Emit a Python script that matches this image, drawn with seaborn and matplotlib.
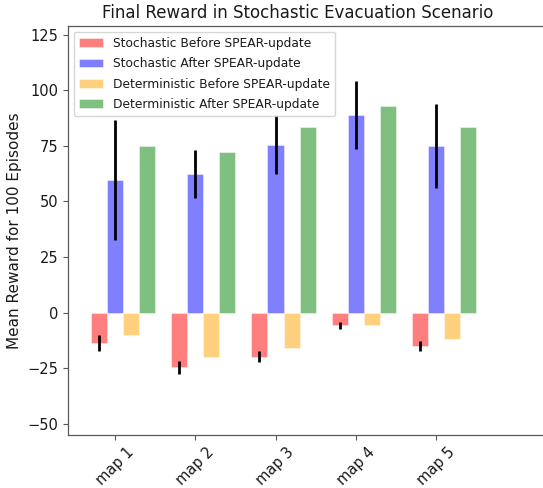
import matplotlib.pyplot as plt
import numpy as np
import pandas as pd
import seaborn as sns

sns.set_style('ticks', {'axes.edgecolor': '0.35', 'xtick.color': '0.35',
                        'ytick.color': '0.35', 'text.color': '0.1',
                        'axes.labelcolor': '0.1'})

maps = ['map 1', 'map 2', 'map 3', 'map 4', 'map 5']
series = ['Stochastic Before SPEAR-update', 'Stochastic After SPEAR-update',
          'Deterministic Before SPEAR-update', 'Deterministic After SPEAR-update']
colors = ['red', 'blue', 'orange', 'green']

stoch_before = [-13.8, -24.6, -19.8, -5.8, -15.0]
stoch_before_err = [3.5, 3.0, 2.5, 1.5, 2.2]
stoch_after = [59.5, 62.5, 75.5, 89.0, 75.0]
stoch_after_err = [27.0, 10.8, 13.3, 15.3, 18.9]
det_before = [-10.2, -20.2, -16.0, -5.4, -12.0]
det_after = [75.1, 72.1, 83.3, 92.9, 83.3]

values = [stoch_before, stoch_after, det_before, det_after]
errors = [stoch_before_err, stoch_after_err, None, None]

df = pd.DataFrame({
    'map': maps * 4,
    'series': [s for s in series for _ in maps],
    'reward': [v for vals in values for v in vals],
})

fig = plt.figure(figsize=(5.43, 4.88), dpi=100)
ax = fig.add_axes([0.125, 0.109, 0.877, 0.838])

sns.barplot(df, x='map', y='reward', hue='series', hue_order=series,
            palette=colors, saturation=1, alpha=0.5, errorbar=None,
            width=0.8, edgecolor='white', linewidth=0.6, ax=ax)

# error bars on the stochastic bars, placed at each bar's centre
for k, err in enumerate(errors):
    if err is None:
        continue
    cont = ax.containers[k]
    xs = [p.get_x() + p.get_width() / 2 for p in cont.patches]
    ax.errorbar(xs, values[k], yerr=err, fmt='none', ecolor='black',
                elinewidth=2, capsize=0)

# ticks sit under the "after" stochastic bar
ax.set_xticks(np.arange(len(maps)) - 0.1)
ax.set_xticklabels(maps, rotation=45, fontsize=10.5, color='0.1')
ax.set_xlim(-0.69, 5.25)
ax.set_ylim(-55, 129)
ax.set_yticks(np.arange(-50, 126, 25))
ax.tick_params(axis='both', length=3.5, width=0.8)
ax.tick_params(axis='y', labelsize=10.5, labelcolor='0.1')
for s in ax.spines.values():
    s.set_linewidth(0.9)
ax.spines['right'].set_visible(False)
ax.set_xlabel('')
ax.set_ylabel('Mean Reward for 100 Episodes', fontsize=11)
ax.set_title('Final Reward in Stochastic Evacuation Scenario', fontsize=12, x=0.482)
ax.legend(loc='upper left', fontsize=8.8, labelspacing=0.6)

fig.savefig('out.png', dpi=100)
